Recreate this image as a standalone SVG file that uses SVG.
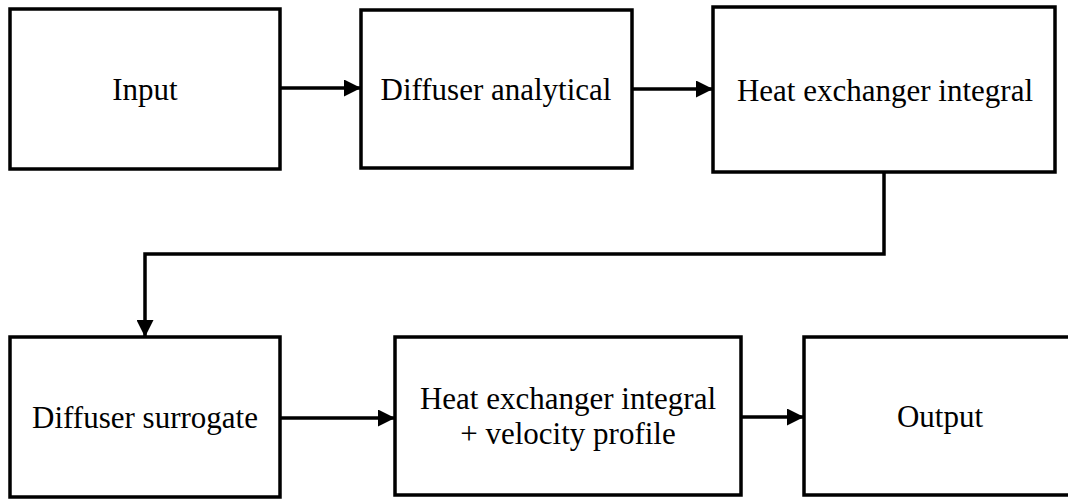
<svg xmlns="http://www.w3.org/2000/svg" width="1068" height="501" viewBox="0 0 1068 501">
<defs>
<style>
.box{fill:#fff;stroke:#000;stroke-width:3.5}
.lbl{font-family:'Liberation Serif','Times New Roman','DejaVu Serif',serif;font-size:31px;fill:#000;text-anchor:middle}
.edge{fill:none;stroke:#000;stroke-width:3.5}
</style>
<marker id="ah" markerUnits="userSpaceOnUse" markerWidth="17" markerHeight="17" refX="17" refY="8.5" orient="auto">
<path d="M0,0 L17,8.5 L0,17 Z" fill="#000"/>
</marker>
</defs>
<rect width="1068" height="501" fill="#fff"/>
<g id="connectors">
<path class="edge" d="M280,88 H361" marker-end="url(#ah)"/>
<path class="edge" d="M632,89 H713" marker-end="url(#ah)"/>
<path class="edge" d="M884,172 V254 H145 V337" marker-end="url(#ah)"/>
<path class="edge" d="M280,418 H395" marker-end="url(#ah)"/>
<path class="edge" d="M741,417 H804" marker-end="url(#ah)"/>
</g>
<g id="input"><rect class="box" x="10" y="9" width="270" height="160"/><text class="lbl" font-family="Liberation Serif, serif" x="145" y="100">Input</text></g>
<g id="diffuser-analytical"><rect class="box" x="361" y="10" width="271" height="158"/><text class="lbl" font-family="Liberation Serif, serif" x="496" y="100">Diffuser analytical</text></g>
<g id="hx-integral"><rect class="box" x="713" y="7" width="342" height="165"/><text class="lbl" font-family="Liberation Serif, serif" x="885" y="101">Heat exchanger integral</text></g>
<g id="diffuser-surrogate"><rect class="box" x="10" y="337" width="270" height="160"/><text class="lbl" font-family="Liberation Serif, serif" x="145" y="428">Diffuser surrogate</text></g>
<g id="hx-velocity"><rect class="box" x="395" y="337" width="346" height="158"/><text class="lbl" font-family="Liberation Serif, serif" x="568" y="409">Heat exchanger integral</text><text class="lbl" font-family="Liberation Serif, serif" x="568" y="444">+ velocity profile</text></g>
<g id="output"><rect class="box" x="804" y="337" width="272" height="158"/><text class="lbl" font-family="Liberation Serif, serif" x="940" y="427">Output</text></g>
</svg>
